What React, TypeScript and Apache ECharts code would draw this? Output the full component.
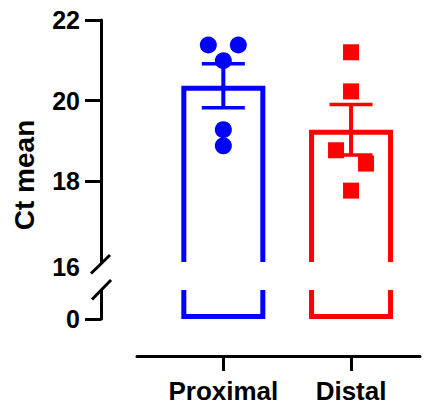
import React, { useEffect, useRef } from "react";
import * as echarts from "echarts";

// ---- data ----
const categories = ["Proximal", "Distal"];
const proximalCt = [21.38, 21.38, 20.99, 19.28, 18.88];
const distalCt = [21.2, 20.23, 18.77, 18.44, 17.77];
const barMeans = [20.37, 19.28];
const barSems = [0.545, 0.625];
const upperTickValues = [18, 20, 22];
const upperLabelValues = [16, 18, 20, 22];
const lowerTickValues = [0];
const yAxisTitle = "Ct mean";

// ---- styling / layout ----
const colors = ["#0000FF", "#FF0000"];
const jitterPx = [
  [-15, 15, 0, 0, 0],
  [0, 0, -15, 15, 0],
];
const FONT = '"Liberation Sans", Arial, Helvetica, sans-serif';
const BAR_HALF = 42;
const BAR_LW = 5;
const UPPER_MIN = 16;
const UPPER_MAX = 22;
const LOWER_MIN = 0;
const LOWER_MAX = 1;
const Y_LABEL_SIZE = 25;

export default function App() {
  const ref = useRef<HTMLDivElement>(null);

  useEffect(() => {
    if (!ref.current) return;
    const chart = echarts.init(ref.current, undefined, { renderer: "svg" });

    const xCommon = { type: "value" as const, min: -0.676, max: 1.54 };

    const barUpper = (params: any, api: any) => {
      const x = api.value(0);
      const m = api.value(1);
      const top = api.coord([x, m]);
      const base = api.coord([x, UPPER_MIN]);
      const h = BAR_LW / 2;
      return {
        type: "polyline",
        shape: {
          points: [
            [top[0] - BAR_HALF + h, base[1]],
            [top[0] - BAR_HALF + h, top[1] + h],
            [top[0] + BAR_HALF - h, top[1] + h],
            [top[0] + BAR_HALF - h, base[1]],
          ],
        },
        style: { stroke: colors[params.dataIndex], fill: "none", lineWidth: BAR_LW },
      };
    };

    const barLower = (params: any, api: any) => {
      const x = api.value(0);
      const top = api.coord([x, LOWER_MAX]);
      const bot = api.coord([x, LOWER_MIN]);
      const h = BAR_LW / 2;
      return {
        type: "polyline",
        shape: {
          points: [
            [top[0] - BAR_HALF + h, top[1]],
            [top[0] - BAR_HALF + h, bot[1] - h],
            [top[0] + BAR_HALF - h, bot[1] - h],
            [top[0] + BAR_HALF - h, top[1]],
          ],
        },
        style: { stroke: colors[params.dataIndex], fill: "none", lineWidth: BAR_LW },
      };
    };

    const errBar = (params: any, api: any) => {
      const x = api.value(0);
      const m = api.value(1);
      const s = api.value(2);
      const hi = api.coord([x, m + s]);
      const lo = api.coord([x, m - s]);
      const c = colors[params.dataIndex];
      const capHalf = 21.5;
      return {
        type: "group",
        children: [
          {
            type: "line",
            shape: { x1: hi[0], y1: hi[1], x2: lo[0], y2: lo[1] },
            style: { stroke: c, lineWidth: 4 },
          },
          {
            type: "line",
            shape: { x1: hi[0] - capHalf, y1: hi[1], x2: hi[0] + capHalf, y2: hi[1] },
            style: { stroke: c, lineWidth: 3.5 },
          },
          {
            type: "line",
            shape: { x1: lo[0] - capHalf, y1: lo[1], x2: lo[0] + capHalf, y2: lo[1] },
            style: { stroke: c, lineWidth: 3.5 },
          },
        ],
      };
    };

    const axisLineStyle = { color: "#000", width: 3 };
    const labelStyle = { color: "#000", fontWeight: "bold" as const, fontFamily: FONT };

    chart.setOption({
      animation: false,
      grid: [
        { left: 137, width: 283, top: 20, height: 242 },
        { left: 137, width: 283, top: 290, height: 29 },
      ],
      xAxis: [
        {
          ...xCommon,
          gridIndex: 0,
          show: false,
          splitLine: { show: false },
          axisLine: { onZero: false },
        },
        {
          ...xCommon,
          gridIndex: 1,
          position: "bottom",
          offset: 37,
          splitLine: { show: false },
          axisLine: { show: true, onZero: false, lineStyle: axisLineStyle },
          axisTick: { show: true, customValues: [0, 1], length: 15, lineStyle: axisLineStyle },
          axisLabel: {
            customValues: [0, 1],
            formatter: (v: number) => categories[Math.round(v)] ?? "",
            fontSize: 26,
            margin: 22,
            ...labelStyle,
          },
        },
      ],
      yAxis: [
        {
          type: "value",
          gridIndex: 0,
          position: "left",
          min: UPPER_MIN,
          max: UPPER_MAX,
          offset: 36,
          splitLine: { show: false },
          axisLine: { show: true, onZero: false, lineStyle: axisLineStyle },
          axisTick: { show: true, customValues: upperTickValues, length: 16, lineStyle: axisLineStyle },
          axisLabel: {
            customValues: upperLabelValues,
            fontSize: Y_LABEL_SIZE,
            margin: 21,
            ...labelStyle,
            formatter: (v: number) => (v === UPPER_MIN ? `{low|${v}}` : `${v}`),
            rich: {
              low: {
                padding: [10, 0, 0, 0],
                fontSize: Y_LABEL_SIZE,
                fontWeight: "bold",
                fontFamily: FONT,
                color: "#000",
              },
            },
          },
        },
        {
          type: "value",
          gridIndex: 1,
          position: "left",
          min: LOWER_MIN,
          max: LOWER_MAX,
          offset: 36,
          splitLine: { show: false },
          axisLine: { show: true, onZero: false, lineStyle: axisLineStyle },
          axisTick: { show: true, customValues: lowerTickValues, length: 16, lineStyle: axisLineStyle },
          axisLabel: { customValues: lowerTickValues, fontSize: Y_LABEL_SIZE, margin: 21, ...labelStyle },
        },
      ],
      series: [
        {
          type: "custom",
          xAxisIndex: 0,
          yAxisIndex: 0,
          renderItem: barUpper,
          data: barMeans.map((m, i) => [i, m]),
          clip: false,
          z: 1,
        },
        {
          type: "custom",
          xAxisIndex: 1,
          yAxisIndex: 1,
          renderItem: barLower,
          data: barMeans.map((m, i) => [i, m]),
          clip: false,
          z: 1,
        },
        {
          type: "custom",
          xAxisIndex: 0,
          yAxisIndex: 0,
          renderItem: errBar,
          data: barMeans.map((m, i) => [i, m, barSems[i]]),
          clip: false,
          z: 2,
        },
        {
          type: "scatter",
          xAxisIndex: 0,
          yAxisIndex: 0,
          symbol: "circle",
          symbolSize: 17,
          itemStyle: { color: colors[0], opacity: 1 },
          data: proximalCt.map((v, j) => ({ value: [0, v], symbolOffset: [jitterPx[0][j], 0] })),
          z: 3,
        },
        {
          type: "scatter",
          xAxisIndex: 0,
          yAxisIndex: 0,
          symbol: "rect",
          symbolSize: 16,
          itemStyle: { color: colors[1], opacity: 1 },
          data: distalCt.map((v, j) => ({ value: [1, v], symbolOffset: [jitterPx[1][j], 0] })),
          z: 3,
        },
      ],
      graphic: [
        {
          type: "line",
          shape: { x1: 91, y1: 273.5, x2: 110, y2: 255 },
          style: { stroke: "#000", lineWidth: 3 },
        },
        {
          type: "line",
          shape: { x1: 92, y1: 299.5, x2: 111, y2: 280 },
          style: { stroke: "#000", lineWidth: 3 },
        },
        {
          type: "text",
          x: 24,
          y: 175,
          rotation: Math.PI / 2,
          style: {
            text: yAxisTitle,
            font: `bold 28px ${FONT}`,
            fill: "#000",
            align: "center",
            verticalAlign: "middle",
          },
        },
      ],
    });

    return () => chart.dispose();
  }, []);

  return (
    <div
      ref={ref}
      style={{ position: "fixed", left: 0, top: 0, width: 430, height: 407, background: "#fff" }}
    />
  );
}
